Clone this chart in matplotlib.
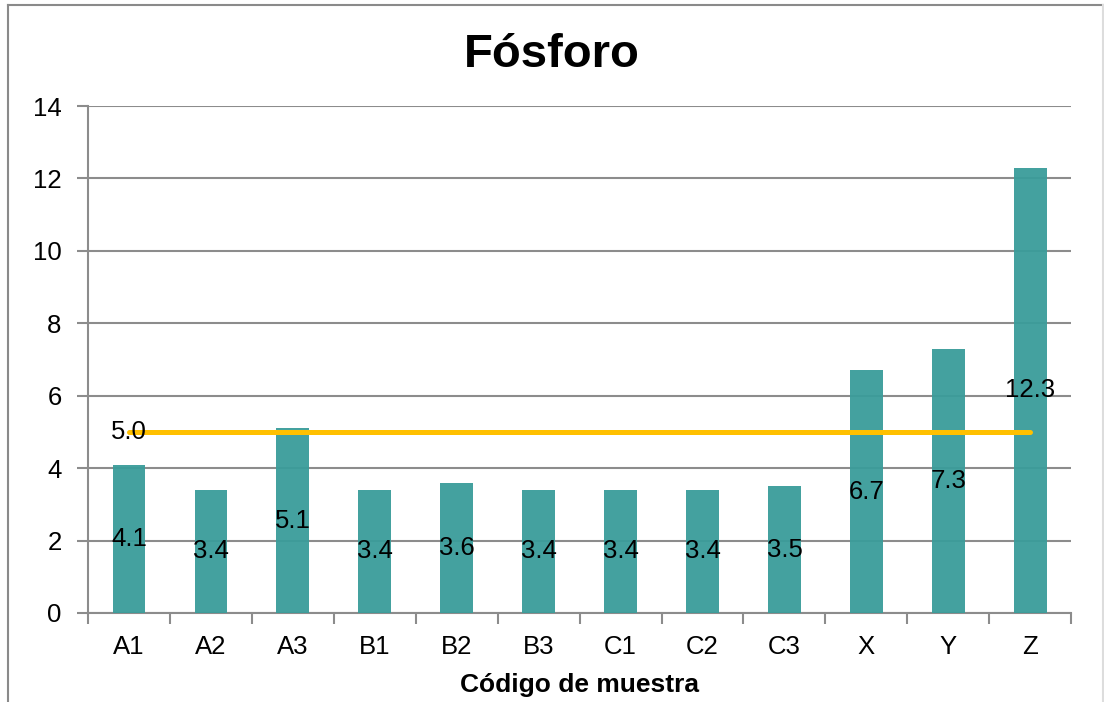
import matplotlib
import numpy as np

matplotlib.use("Agg")
import matplotlib.pyplot as plt  # noqa: E402
from matplotlib.lines import Line2D  # noqa: E402

# Phosphorus content per sample, with the reference limit
samples = ["A1", "A2", "A3", "B1", "B2", "B3", "C1", "C2", "C3", "X", "Y", "Z"]
fosforo = [4.1, 3.4, 5.1, 3.4, 3.6, 3.4, 3.4, 3.4, 3.5, 6.7, 7.3, 12.3]
limite = 5.0

BAR_COLOR = "#3a9c9a"
LINE_COLOR = "#FFC000"
GRID_COLOR = "#8c8c8c"
FS = 18.5

plt.rcParams["font.family"] = ["Liberation Sans", "DejaVu Sans"]

fig = plt.figure(figsize=(11.04, 7.02), dpi=100)
ax = fig.add_axes([0.0797, 0.1268, 0.8906, 0.7222])

x = np.arange(len(samples))
ax.bar(x, fosforo, width=0.4, color=BAR_COLOR, alpha=0.95, zorder=3)
for xi, v in zip(x, fosforo):
    ax.text(xi, v / 2, f"{v:.1f}", ha="center", va="center", fontsize=FS, zorder=5)

# Limit line spanning first to last sample
ax.plot([x[0], x[-1]], [limite, limite], color=LINE_COLOR, lw=3.6,
        solid_capstyle="round", zorder=4)
ax.text(x[0], limite, f"{limite:.1f}", ha="center", va="center", fontsize=FS, zorder=5)

ax.set_xlim(-0.5, len(samples) - 0.5)
ax.set_ylim(0, 14)
ax.set_yticks(np.arange(0, 15, 2))
ax.set_xticks(x)
ax.set_xticklabels(samples)
ax.set_xticks(np.arange(-0.5, len(samples)), minor=True)
ax.tick_params(axis="x", which="major", length=0, labelsize=FS, pad=16)
ax.tick_params(axis="x", which="minor", length=8, width=1.5, color=GRID_COLOR)
ax.tick_params(axis="y", length=8, width=1.5, color=GRID_COLOR, labelsize=FS, pad=11)
ax.yaxis.grid(True, color=GRID_COLOR, lw=1.5, zorder=0)
ax.set_axisbelow(True)

for side in ("top", "right"):
    ax.spines[side].set_visible(False)
for side in ("left", "bottom"):
    ax.spines[side].set_color(GRID_COLOR)
    ax.spines[side].set_linewidth(1.5)

ax.set_xlabel("Código de muestra", fontsize=19, fontweight="bold", labelpad=10)
fig.text(0.5, 0.921, "Fósforo", ha="center", va="center", fontsize=34, fontweight="bold")

# Chart frame
fig.add_artist(Line2D([8 / 1104, 8 / 1104], [0, 1 - 5 / 702], color="#8a8a8a", lw=1.5))
fig.add_artist(Line2D([8 / 1104, 1103 / 1104], [1 - 5 / 702, 1 - 5 / 702], color="#8a8a8a", lw=1.5))
fig.add_artist(Line2D([1103 / 1104, 1103 / 1104], [0, 1 - 5 / 702], color="#dddddd", lw=1.5))

fig.savefig("out.png", dpi=100)
plt.close(fig)
